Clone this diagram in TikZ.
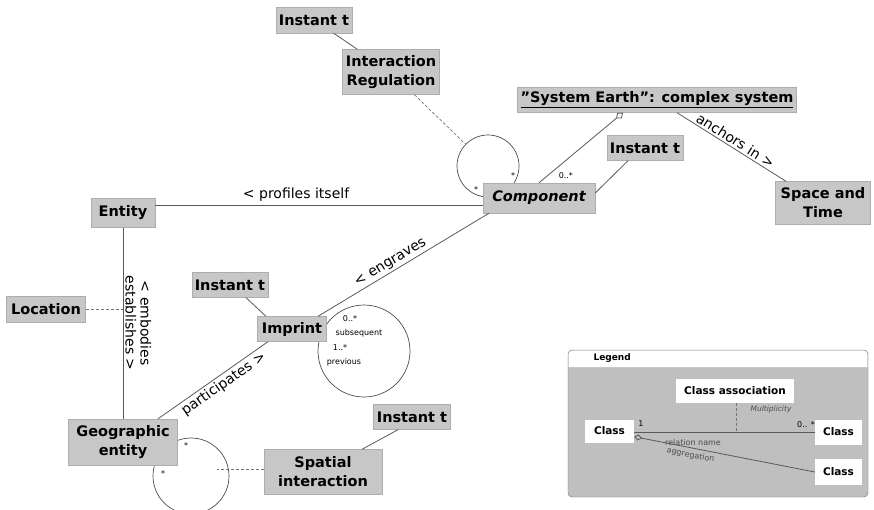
\documentclass[tikz,border=0pt]{standalone}
\usepackage{fontspec}
\setmainfont{DejaVu Sans}
\usetikzlibrary{arrows.meta}
\tikzset{
  cls/.style={draw=black!32, fill=black!22, inner sep=2pt, align=center,
    font=\bfseries\fontsize{14.5}{19}\selectfont},
  selfloop/.style={circle, draw=black!70, line width=0.7pt, inner sep=0pt},
  rel/.style={draw=black!65, line width=0.8pt},
  link/.style={draw=black!55, line width=0.7pt, dash pattern=on 3pt off 2pt},
  note/.style={font=\fontsize{14}{15}\selectfont, inner sep=2pt},
  mult/.style={font=\fontsize{8}{9}\selectfont, inner sep=0pt},
  aggr/.style={rel, {Diamond[open, length=9pt, width=7pt]}-},
  legcls/.style={fill=white, inner sep=2pt,
    font=\bfseries\fontsize{10.5}{12}\selectfont},
}
\begin{document}
\begin{tikzpicture}[x=1pt,y=-1pt]
  \useasboundingbox (0,0) rectangle (874,510);

  % self associations (behind the classes)
  \node[selfloop, minimum size=62] (compLoop) at (488,166) {};
  \node[selfloop, minimum size=92] (impLoop) at (364,351) {};
  \node[selfloop, minimum size=76] (geoLoop) at (191,476) {};

  % classes
  \node[cls, minimum width=76, minimum height=26] (instReg) at (314,20) {Instant t};
  \node[cls, minimum width=97, minimum height=45] (intReg) at (391,72) {Interaction\\Regulation};
  \node[cls, minimum width=279, minimum height=25] (sysEarth) at (657,100) {\underline{"System Earth": complex system}};
  \node[cls, minimum width=76, minimum height=25] (instComp) at (645,148) {Instant t};
  \node[cls, minimum width=112, minimum height=30, font=\bfseries\itshape\fontsize{14.5}{19}\selectfont] (comp) at (539,198) {Component};
  \node[cls, minimum width=95, minimum height=43] (space) at (823,203) {Space and\\Time};
  \node[cls, minimum width=64, minimum height=29] (entity) at (123,213) {Entity};
  \node[cls, minimum width=79, minimum height=26] (loc) at (46,309) {Location};
  \node[cls, minimum width=76, minimum height=25] (instImp) at (230,285) {Instant t};
  \node[cls, minimum width=69, minimum height=25] (imprint) at (292,329) {Imprint};
  \node[cls, minimum width=109, minimum height=46] (geo) at (123,442) {Geographic\\entity};
  \node[cls, minimum width=77, minimum height=25] (instSp) at (412,417) {Instant t};
  \node[cls, minimum width=118, minimum height=45] (spatial) at (323,472) {Spatial\\interaction};

  % multiplicities on the loops
  \node[mult] at (513,176) {*};
  \node[mult] at (476,190) {*};
  \node[mult] at (186,446) {*};
  \node[mult] at (163,474) {*};
  \node[mult] at (350,319) {0..*};
  \node[mult] at (359,333) {subsequent};
  \node[mult] at (340,348) {1..*};
  \node[mult] at (344,362) {previous};

  % associations
  \draw[rel] (instReg) -- (intReg);
  \draw[link] (intReg) -- (compLoop);
  \draw[aggr] ([xshift=-34]sysEarth.south) -- (comp.north)
    node[mult, pos=0.9, right=11pt] {0..*};
  \draw[rel] ([xshift=-17]instComp.south) -- ([yshift=5]comp.east);
  \draw[rel] ([xshift=20]sysEarth.south) -- ([xshift=-37]space.north)
    node[note, midway, sloped, above] {anchors in >};
  \draw[rel] ([yshift=8]entity.east) -- ([yshift=-7]comp.west)
    node[note, pos=0.43, above=1pt] {< profiles itself};
  \draw[rel] ([xshift=26]imprint.north) -- ([xshift=-50]comp.south)
    node[note, pos=0.45, sloped, above] {< engraves};
  \draw[rel] (entity) -- (geo)
    node[note, midway, sloped, above, align=center] {< embodies\\establishes >};
  \draw[link] (loc) -- (loc -| entity);
  \draw[rel] ([xshift=16]instImp.south) -- ([xshift=-26]imprint.north);
  \draw[rel] ([xshift=35]geo.north) -- ([xshift=-24]imprint.south)
    node[note, pos=0.55, sloped, below] {participates >};
  \coordinate (geoLink) at (217,469);
  \draw[link] ([yshift=3]spatial.west) -- (geoLink);
  \draw[rel] ([xshift=-14]instSp.south) -- ([xshift=39]spatial.north);

  % legend
  \draw[draw=black!55, fill=black!25, rounded corners=4pt] (568,350) rectangle (868,497);
  \fill[white] (568.6,367) [rounded corners=3.5pt] -- (568.6,350.6) -- (867.4,350.6) [sharp corners] -- (867.4,367) -- cycle;
  \node[anchor=west, font=\bfseries\fontsize{9}{10}\selectfont] (legTitle) at (590,358) {Legend};
  \node[legcls, minimum width=118, minimum height=24] (legAssoc) at (735,391) {Class association};
  \node[legcls, minimum width=49, minimum height=23] (legA) at (609.5,431) {Class};
  \node[legcls, minimum width=47, minimum height=25] (legB) at (838.5,432) {Class};
  \node[legcls, minimum width=47, minimum height=26] (legC) at (838.5,472) {Class};
  \draw[rel] (legA.east |- legB) -- (legB.west);
  \coordinate (legMid) at (736,432);
  \draw[link, line width=0.6pt] (legAssoc.south -| legMid) -- (legMid);
  \draw[aggr, {Diamond[open, length=8pt, width=6pt]}-] ([yshift=6]legA.south east) -- (legC.west)
    node[mult, pos=0.32, sloped, below=3pt, text=black!70] {aggregation};
  \node[mult] at (641,424) {1};
  \node[mult, font=\itshape\fontsize{7.5}{9}\selectfont, text=black!70] at (771,409) {Multiplicity};
  \node[mult] at (806,425) {0.. *};
  \node[mult, text=black!70] at (693,443) {relation name};
\end{tikzpicture}
\end{document}
